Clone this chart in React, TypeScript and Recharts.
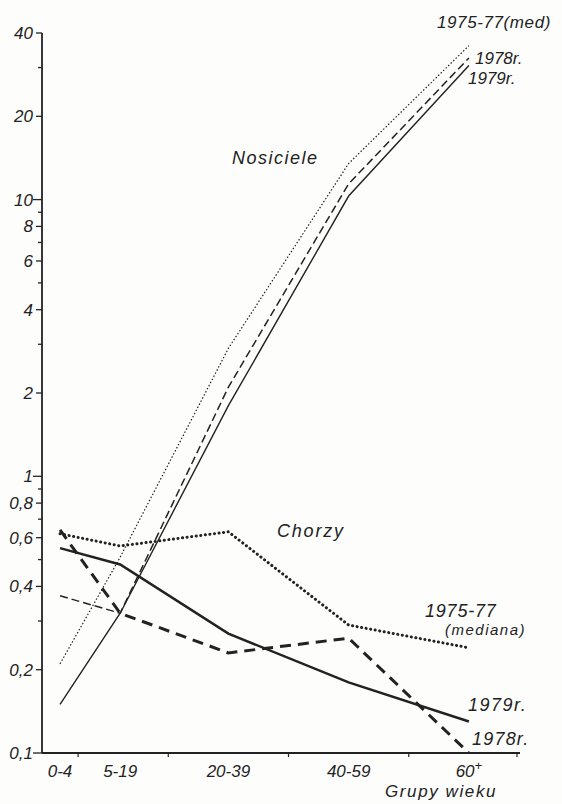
import React from 'react';
import { LineChart, Line, XAxis, YAxis } from 'recharts';

// age groups, placed at their mid-age on a linear axis
const ageMid = [2, 12, 30, 50, 70];
const ageGroups = ['0-4', '5-19', '20-39', '40-59', '60+'];
const ageMinorTicks = [5, 20, 40, 60, 78];

// carriers (Nosiciele) per 100 000
const nosicieleMed = [0.21, 0.51, 2.9, 13.5, 36];
const nosiciele1978 = [0.37, 0.32, 2.1, 11.4, 32.5];
const nosiciele1979 = [0.15, 0.32, 1.8, 10.3, 30.5];

// cases (Chorzy) per 100 000
const chorzyMed = [0.62, 0.56, 0.63, 0.29, 0.24];
const chorzy1978 = [0.64, 0.32, 0.23, 0.26, 0.1];
const chorzy1979 = [0.55, 0.48, 0.27, 0.18, 0.13];

const yTicks = [0.1, 0.2, 0.3, 0.4, 0.5, 0.6, 0.7, 0.8, 0.9, 1, 2, 3, 4, 5, 6, 7, 8, 9, 10, 20, 30, 40];
const yLabelled = [0.1, 0.2, 0.4, 0.6, 0.8, 1, 2, 4, 6, 8, 10, 20, 40];
const yLongTicks = [0.1, 1, 10];

const data = ageMid.map((age, i) => ({
  age,
  nosMed: nosicieleMed[i],
  nos78: nosiciele1978[i],
  nos79: nosiciele1979[i],
  chMed: chorzyMed[i],
  ch78: chorzy1978[i],
  ch79: chorzy1979[i],
}));

const INK = '#222';
const FONT = '"Liberation Sans", Arial, sans-serif';

const fmtY = (v: number) => String(v).replace('.', ',');

function YTick({ x, y, payload }: any) {
  const v = payload.value;
  const labelled = yLabelled.includes(v);
  const len = yLongTicks.includes(v) ? 9 : labelled ? 6 : 4;
  return (
    <g>
      <line x1={x - len} x2={x} y1={y} y2={y} stroke={INK} strokeWidth={1.3} />
      {labelled && (
        <text x={x - 9} y={y + 6} textAnchor="end" fontSize={17} fontStyle="italic" fill={INK} fontFamily={FONT}>
          {fmtY(v)}
        </text>
      )}
    </g>
  );
}

function XTick({ x, y, payload }: any) {
  const i = ageMid.indexOf(payload.value);
  if (i < 0) {
    return <line x1={x} x2={x} y1={y} y2={y + 4} stroke={INK} strokeWidth={1.2} />;
  }
  const label = ageGroups[i];
  const plus = label.endsWith('+');
  return (
    <text x={x} y={y + 24} textAnchor="middle" fontSize={17} fontStyle="italic" fill={INK} fontFamily={FONT}>
      {plus ? label.slice(0, -1) : label}
      {plus && <tspan dy={-7} fontSize={13}>+</tspan>}
    </text>
  );
}

const textStyle = { fontFamily: FONT, fontStyle: 'italic' as const, fill: INK };

export default function App() {
  return (
    <div style={{ position: 'absolute', left: 0, top: 0, width: 562, height: 804, background: '#fdfdfc' }}>
      <LineChart width={562} height={804} data={data} margin={{ top: 33, right: 42, bottom: 0, left: 0 }}>
        <XAxis
          dataKey="age"
          type="number"
          domain={[-1, 78.5]}
          ticks={[...ageMid, ...ageMinorTicks].sort((a, b) => a - b)}
          interval={0}
          height={51}
          tickSize={0}
          tickMargin={0}
          tickLine={false}
          tick={<XTick />}
          stroke={INK}
          strokeWidth={2.2}
        />
        <YAxis
          scale="log"
          domain={[0.1, 40]}
          allowDataOverflow
          ticks={yTicks}
          interval={0}
          width={42}
          tickSize={0}
          tickMargin={0}
          tickLine={false}
          tick={<YTick />}
          stroke={INK}
          strokeWidth={1.8}
        />
        {/* Nosiciele: thin lines */}
        <Line dataKey="nosMed" stroke={INK} strokeWidth={1.2} strokeDasharray="1.5 2" dot={false} isAnimationActive={false} />
        <Line dataKey="nos78" stroke={INK} strokeWidth={1.5} strokeDasharray="8 4" dot={false} isAnimationActive={false} />
        <Line dataKey="nos79" stroke={INK} strokeWidth={1.4} dot={false} isAnimationActive={false} />
        {/* Chorzy: heavy lines */}
        <Line dataKey="chMed" stroke={INK} strokeWidth={3} strokeDasharray="0.1 4.5" strokeLinecap="round" dot={false} isAnimationActive={false} />
        <Line dataKey="ch78" stroke={INK} strokeWidth={3} strokeDasharray="11 7" dot={false} isAnimationActive={false} />
        <Line dataKey="ch79" stroke={INK} strokeWidth={2.5} dot={false} isAnimationActive={false} />
      </LineChart>
      <svg width={562} height={804} style={{ position: 'absolute', left: 0, top: 0, pointerEvents: 'none' }}>
        <text x={232} y={164} fontSize={18} letterSpacing={1.5} {...textStyle}>Nosiciele</text>
        <text x={277} y={537} fontSize={18} letterSpacing={1.8} {...textStyle}>Chorzy</text>
        <text x={437} y={28} fontSize={17} letterSpacing={0.6} {...textStyle}>1975-77(med)</text>
        <text x={475} y={64} fontSize={17} {...textStyle}>1978r.</text>
        <text x={468} y={84} fontSize={17} {...textStyle}>1979r.</text>
        <text x={425} y={617} fontSize={18} letterSpacing={0.8} {...textStyle}>1975-77</text>
        <text x={445} y={635} fontSize={15} letterSpacing={1.5} {...textStyle}>(mediana)</text>
        <text x={468} y={711} fontSize={18} letterSpacing={1.5} {...textStyle}>1979r.</text>
        <text x={472} y={745} fontSize={18} letterSpacing={1.2} {...textStyle}>1978r.</text>
        <text x={385} y={797} fontSize={17} letterSpacing={1.6} {...textStyle}>Grupy wieku</text>
      </svg>
    </div>
  );
}
